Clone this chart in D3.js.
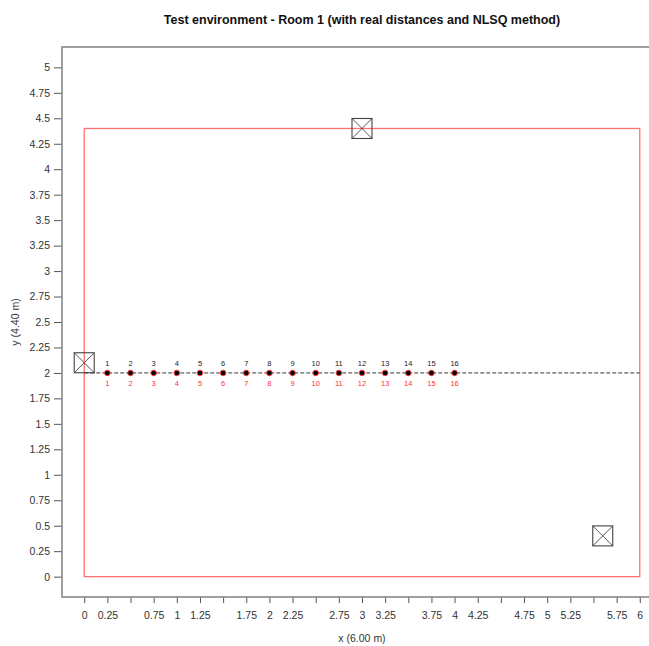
<!DOCTYPE html>
<html>
<head>
<meta charset="utf-8">
<script src="https://cdn.jsdelivr.net/npm/d3@7"></script>
<style>
  body { margin: 0; background: #fff; }
  text { font-family: "Liberation Sans", Arial, sans-serif; }
</style>
</head>
<body>
<svg id="chart" width="649" height="646"></svg>
<script>
/** data **/
var pointX = [0.25, 0.5, 0.75, 1, 1.25, 1.5, 1.75, 2, 2.25, 2.5, 2.75, 3, 3.25, 3.5, 3.75, 4];
var pointY = [2, 2, 2, 2, 2, 2, 2, 2, 2, 2, 2, 2, 2, 2, 2, 2];
var pointLabels = ["1","2","3","4","5","6","7","8","9","10","11","12","13","14","15","16"];
var anchorX = [0, 3, 5.6];
var anchorY = [2.1, 4.4, 0.4];
var roomW = 6, roomH = 4.4;
var lineY = 2;
var xTicks = [0,0.25,0.5,0.75,1,1.25,1.5,1.75,2,2.25,2.5,2.75,3,3.25,3.5,3.75,4,4.25,4.5,4.75,5,5.25,5.5,5.75,6];
var xTickLabels = ["0","0.25","","0.75","1","1.25","","1.75","2","2.25","","2.75","3","3.25","","3.75","4","4.25","","4.75","5","5.25","","5.75","6"];
var yTicks = d3.range(0, 5.01, 0.25);

var svg = d3.select("#chart");
var pLeft = 62, pRight = 662, pTop = 47, pBottom = 597;

// R style 4% padding
var x = d3.scaleLinear().domain([-0.24, 6.24]).range([pLeft, pRight]);
var y = d3.scaleLinear().domain([-0.2, 5.2]).range([pBottom, pTop]);

// title
svg.append("text")
  .attr("x", 362).attr("y", 24)
  .attr("text-anchor", "middle")
  .attr("font-size", "12.5px").attr("font-weight", "bold")
  .attr("fill", "#111")
  .text("Test environment - Room 1 (with real distances and NLSQ method)");

// axes
var yAxis = d3.axisLeft(y).tickValues(yTicks).tickSize(8).tickPadding(4)
  .tickFormat(function(d) { return d3.format("~g")(d); });
var gy = svg.append("g").attr("transform", "translate(" + pLeft + ",0)").call(yAxis);
var xAxis = d3.axisBottom(x).tickValues(xTicks).tickSize(6).tickPadding(9)
  .tickFormat(function(d, i) { return xTickLabels[i]; });
var gx = svg.append("g").attr("transform", "translate(0," + pBottom + ")").call(xAxis);

[gx, gy].forEach(function(g) {
  g.select(".domain").remove();
  g.selectAll(".tick line").attr("stroke", "#555").attr("stroke-width", 1);
  g.selectAll(".tick text").attr("font-size", "10.5px").attr("fill", "#333")
    .style("font-family", "'Liberation Sans', Arial, sans-serif");
});

// plot box
svg.append("rect")
  .attr("x", pLeft).attr("y", pTop)
  .attr("width", pRight - pLeft).attr("height", pBottom - pTop)
  .attr("fill", "none").attr("stroke", "#888").attr("stroke-width", 1.6);

// axis titles
svg.append("text")
  .attr("x", 362).attr("y", 642)
  .attr("text-anchor", "middle").attr("font-size", "10.5px").attr("fill", "#333")
  .text("x (6.00 m)");
svg.append("text")
  .attr("transform", "translate(19,322) rotate(-90)")
  .attr("text-anchor", "middle").attr("font-size", "10.5px").attr("fill", "#333")
  .text("y (4.40 m)");

// room
svg.append("rect")
  .attr("x", x(0)).attr("y", y(roomH))
  .attr("width", x(roomW) - x(0)).attr("height", y(0) - y(roomH))
  .attr("fill", "none").attr("stroke", "#ff7070").attr("stroke-width", 1.3);

// dashed reference line
svg.append("line")
  .attr("x1", x(0)).attr("x2", x(roomW))
  .attr("y1", y(lineY)).attr("y2", y(lineY))
  .attr("stroke", "#222").attr("stroke-width", 0.9)
  .attr("stroke-dasharray", "4,2");

// anchors
var s = 10;
var anchors = svg.append("g").selectAll("g").data(anchorX).enter().append("g")
  .attr("transform", function(d, i) { return "translate(" + x(d) + "," + y(anchorY[i]) + ")"; });
anchors.append("rect")
  .attr("x", -s).attr("y", -s).attr("width", 2*s).attr("height", 2*s)
  .attr("fill", "none").attr("stroke", "#444").attr("stroke-width", 1.1);
anchors.append("path")
  .attr("d", "M" + (-s) + "," + (-s) + "L" + s + "," + s + "M" + s + "," + (-s) + "L" + (-s) + "," + s)
  .attr("stroke", "#444").attr("stroke-width", 0.9);

// points
var pts = svg.append("g");
pts.selectAll("circle").data(pointX).enter().append("circle")
  .attr("cx", function(d) { return x(d); })
  .attr("cy", function(d, i) { return y(pointY[i]); })
  .attr("r", 2.8)
  .attr("fill", "#000").attr("stroke", "#ff4040").attr("stroke-width", 1);

pts.selectAll("text.top").data(pointX).enter().append("text")
  .attr("class", "top")
  .attr("x", function(d) { return x(d); })
  .attr("y", function(d, i) { return y(pointY[i]) - 7; })
  .attr("text-anchor", "middle").attr("font-size", "7.5px").attr("fill", "#222")
  .text(function(d, i) { return pointLabels[i]; });

pts.selectAll("text.bot").data(pointX).enter().append("text")
  .attr("class", "bot")
  .attr("x", function(d) { return x(d); })
  .attr("y", function(d, i) { return y(pointY[i]) + 13; })
  .attr("text-anchor", "middle").attr("font-size", "7.5px").attr("fill", "#ff3030")
  .text(function(d, i) { return pointLabels[i]; });
</script>
</body>
</html>
